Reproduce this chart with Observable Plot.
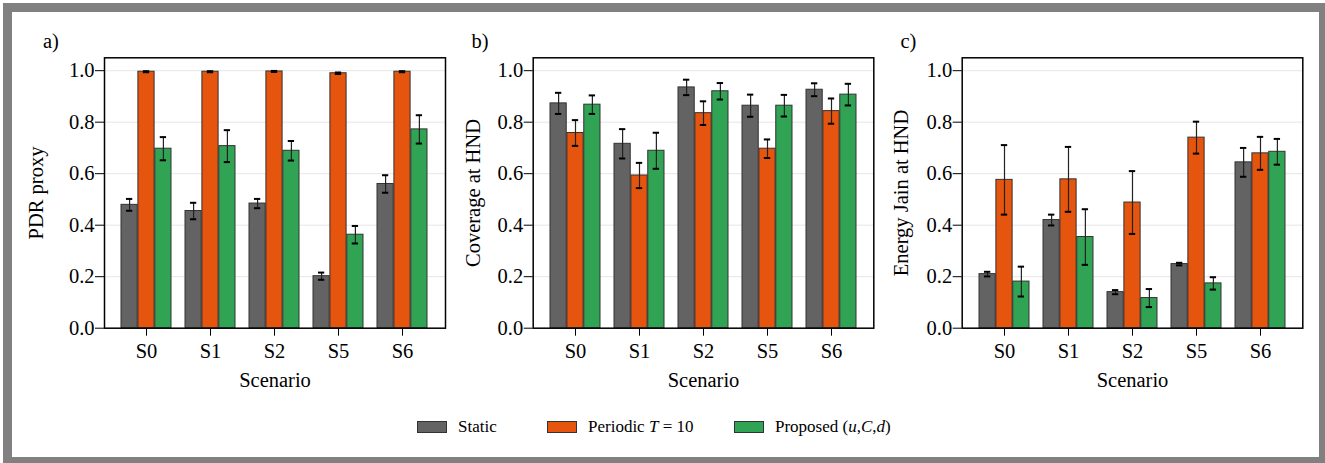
<!DOCTYPE html>
<html>
<head>
<meta charset="utf-8">
<script src="https://cdn.jsdelivr.net/npm/d3@7"></script>
<script src="https://cdn.jsdelivr.net/npm/@observablehq/plot@0.6"></script>
<style>
  html, body { margin: 0; padding: 0; background: #fff; }
  body { width: 1325px; height: 463px; position: relative; overflow: hidden; font-family: "Liberation Serif", "Times New Roman", serif; }
  svg, svg text, svg g { font-family: "Liberation Serif", "Times New Roman", serif !important; }
  svg text { font-size: 20.5px !important; }
  #border { position: absolute; left: 3px; top: 3px; width: 1325px; height: 463px; box-sizing: border-box; border: 9px solid #808080; }
  .panel { position: absolute; top: 0; }
  .plabel { position: absolute; font-size: 20.5px; line-height: 1; }
  .legend-item { position: absolute; top: 415px; display: flex; align-items: center; font-size: 17px; height: 24px; }
  .sw { width: 28px; height: 10px; border: 1px solid #333; margin-right: 11px; }
</style>
</head>
<body>
<div id="border"></div>
<div id="root"></div>
<script>
const scenarios = ["S0", "S1", "S2", "S5", "S6"];
const seriesNames = ["Static", "Periodic", "Proposed"];
const seriesColors = ["#636363", "#e6550d", "#31a354"];
const yTicks = [0, 0.2, 0.4, 0.6, 0.8, 1.0];

// a) PDR proxy
const pdrStatic = [0.479, 0.455, 0.484, 0.202, 0.560];
const pdrStaticErr = [0.023, 0.032, 0.018, 0.014, 0.034];
const pdrPeriodic = [0.996, 0.996, 0.997, 0.990, 0.996];
const pdrPeriodicErr = [0.002, 0.002, 0.002, 0.003, 0.002];
const pdrProposed = [0.697, 0.707, 0.689, 0.363, 0.772];
const pdrProposedErr = [0.045, 0.062, 0.038, 0.034, 0.055];

// b) Coverage at HND
const covStatic = [0.873, 0.716, 0.935, 0.864, 0.926];
const covStaticErr = [0.041, 0.057, 0.030, 0.043, 0.025];
const covPeriodic = [0.758, 0.593, 0.835, 0.697, 0.843];
const covPeriodicErr = [0.050, 0.049, 0.046, 0.036, 0.049];
const covProposed = [0.868, 0.689, 0.920, 0.864, 0.907];
const covProposedErr = [0.036, 0.070, 0.032, 0.042, 0.042];

// c) Energy Jain at HND
const jainStatic = [0.210, 0.420, 0.140, 0.249, 0.644];
const jainStaticErr = [0.009, 0.021, 0.008, 0.005, 0.056];
const jainPeriodic = [0.576, 0.578, 0.488, 0.740, 0.679];
const jainPeriodicErr = [0.135, 0.126, 0.122, 0.062, 0.064];
const jainProposed = [0.181, 0.354, 0.117, 0.174, 0.685];
const jainProposedErr = [0.058, 0.108, 0.035, 0.024, 0.050];

function table(vals, errs) {
  const rows = [];
  seriesNames.forEach((s, si) => {
    scenarios.forEach((sc, i) => {
      rows.push({series: s, si, scenario: sc, value: vals[si][i], lo: vals[si][i] - errs[si][i], hi: vals[si][i] + errs[si][i]});
    });
  });
  return rows;
}

const panels = [
  {tag: "a)", tagX: 43, label: "PDR proxy", left: 0, width: 450, mL: 104, mR: 5, labelOffset: 75.6,
   data: table([pdrStatic, pdrPeriodic, pdrProposed], [pdrStaticErr, pdrPeriodicErr, pdrProposedErr])},
  {tag: "b)", tagX: 471.5, label: "Coverage at HND", left: 440, width: 440, mL: 92.7, mR: 6.7, labelOffset: 68,
   data: table([covStatic, covPeriodic, covProposed], [covStaticErr, covPeriodicErr, covProposedErr])},
  {tag: "c)", tagX: 900.5, label: "Energy Jain at HND", left: 880, width: 430, mL: 81.7, mR: 7.7, labelOffset: 68.6,
   data: table([jainStatic, jainPeriodic, jainProposed], [jainStaticErr, jainPeriodicErr, jainProposedErr])}
];

const PI = 0.215, PO = 0.247;
const root = document.getElementById("root");

panels.forEach(p => {
  const fw = p.width - p.mL - p.mR;
  const step = fw / (scenarios.length - PI + 2 * PO);
  const bw = step * (1 - PI);
  const third = bw / 3;
  const capHalf = 3.5;
  const marks = [];
  seriesNames.forEach((s, si) => {
    const rows = p.data.filter(d => d.si === si);
    marks.push(Plot.barY(rows, {
      x: "scenario", y: "value", fill: seriesColors[si], stroke: "#333", strokeWidth: 1,
      insetLeft: si * third, insetRight: (2 - si) * third
    }));
  });
  seriesNames.forEach((s, si) => {
    const rows = p.data.filter(d => d.si === si);
    const c = (si + 0.5) * third;
    marks.push(Plot.ruleX(rows, {x: "scenario", y1: "lo", y2: "hi", dx: c - bw / 2, stroke: "#222", strokeWidth: 1.2}));
    marks.push(Plot.tickY(rows, {x: "scenario", y: "lo", stroke: "#000", strokeWidth: 2, insetLeft: c - capHalf, insetRight: bw - c - capHalf}));
    marks.push(Plot.tickY(rows, {x: "scenario", y: "hi", stroke: "#000", strokeWidth: 2, insetLeft: c - capHalf, insetRight: bw - c - capHalf}));
  });
  marks.push(Plot.frame({stroke: "#000", strokeWidth: 1.5}));

  const chart = Plot.plot({
    width: p.width, height: 400,
    marginLeft: p.mL, marginRight: p.mR, marginTop: 57.3, marginBottom: 72.3,
    style: {fontFamily: "'Liberation Serif', 'Times New Roman', serif", fontSize: "20.5px", background: "transparent", overflow: "visible", color: "#000"},
    x: {type: "band", domain: scenarios, paddingInner: PI, paddingOuter: PO, label: "Scenario", labelAnchor: "center", labelOffset: 59, tickSize: 8, tickPadding: 7, labelArrow: "none"},
    y: {domain: [0, 1.05], ticks: yTicks, tickFormat: d => d.toFixed(1), grid: true, label: p.label, labelAnchor: "center", labelOffset: p.labelOffset, tickSize: 9, tickPadding: 1, labelArrow: "none"},
    marks
  });
  const wrap = document.createElement("div");
  wrap.className = "panel";
  wrap.style.left = p.left + "px";
  wrap.appendChild(chart);
  root.appendChild(wrap);

  const t = document.createElement("div");
  t.className = "plabel";
  t.textContent = p.tag;
  t.style.left = p.tagX + "px";
  t.style.top = "31px";
  root.appendChild(t);
});

const legendItems = [
  {html: "Static", left: 417},
  {html: "Periodic <i>T</i> = 10", left: 547},
  {html: "Proposed (<i>u</i>,<i>C</i>,<i>d</i>)", left: 734}
];
legendItems.forEach((it, i) => {
  const d = document.createElement("div");
  d.className = "legend-item";
  d.style.left = it.left + "px";
  const sw = document.createElement("div");
  sw.className = "sw";
  sw.style.background = seriesColors[i];
  const tx = document.createElement("span");
  tx.innerHTML = it.html;
  d.appendChild(sw);
  d.appendChild(tx);
  root.appendChild(d);
});
</script>
</body>
</html>
